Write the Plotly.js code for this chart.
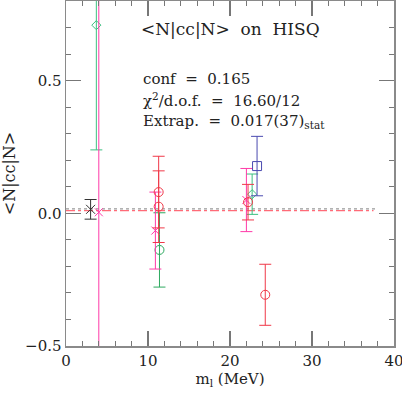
<!DOCTYPE html>
<html>
<head>
<meta charset="utf-8">
<script src="https://cdn.plot.ly/plotly-3.0.1.min.js"></script>
<style>html,body{margin:0;padding:0;background:#fff;}#plot{width:402px;height:394px;}</style>
</head>
<body>
<div id="plot"></div>
<script>
// Extrapolated value (black)
const extrapM = [3.0];
const extrapV = [0.015];
const extrapE = [0.037];
// Red circles
const redM = [11.3, 11.3, 22.2, 24.3];
const redV = [0.08, 0.025, 0.042, -0.307];
const redE = [0.135, 0.135, 0.067, 0.115];
// Magenta crosses
const magM = [4.0, 10.9, 22.0];
const magV = [0.004, -0.065, 0.05];
const magE = [1.0, 0.145, 0.119];
// Green diamonds
const grnDM = [3.7, 22.7];
const grnDV = [0.709, 0.072];
const grnDE = [0.47, 0.076];
// Green circle
const grnCM = [11.4];
const grnCV = [-0.138];
const grnCE = [0.14];
// Blue square
const bluM = [23.3];
const bluV = [0.178];
const bluE = [0.112];
// Fit lines
const fitGrayM = [0, 38];
const fitGrayV = [0.017, 0.017];
const fitRedM = [0, 37.5];
const fitRedV = [0.010, 0.010];

const font = 'DejaVu Serif, serif';

function pts(x, y, e, color, symbol, size) {
  return {
    x: x, y: y, type: 'scatter', mode: 'markers', cliponaxis: true,
    marker: {symbol: symbol, size: size, color: color, line: {color: color, width: 1}},
    error_y: {type: 'data', array: e, visible: true, color: color, thickness: 1, width: 6},
    showlegend: false
  };
}

const traces = [
  {x: fitGrayM, y: fitGrayV, type: 'scatter', mode: 'lines', line: {color: '#999999', width: 1.2, dash: 'dot'}, showlegend: false},
  {x: fitRedM, y: fitRedV, type: 'scatter', mode: 'lines', line: {color: '#ff6b78', width: 1.2, dash: 'dashdot'}, showlegend: false},
  pts(grnDM, grnDV, grnDE, '#3cc080', 'diamond-open', 7),
  pts(grnCM, grnCV, grnCE, '#2eaa60', 'circle-open', 9),
  pts(magM, magV, magE, '#ff3aa8', 'x-thin-open', 8),
  pts(redM, redV, redE, '#f03848', 'circle-open', 9),
  pts(bluM, bluV, bluE, '#4a4ab0', 'square-open', 9),
  pts(extrapM, extrapV, extrapE, '#333333', 'x-thin-open', 9)
];

const axisCommon = {
  showline: true, mirror: 'ticks', linecolor: '#8a8a8a', linewidth: 1.5,
  ticks: 'inside', ticklen: 15, tickwidth: 1.2, tickcolor: '#777',
  showgrid: false, zeroline: false,
  tickfont: {family: font, size: 15, color: '#222'}
};

const layout = {
  width: 402, height: 394,
  margin: {l: 66, r: 8, t: 1, b: 48},
  paper_bgcolor: '#fff', plot_bgcolor: '#fff',
  showlegend: false,
  xaxis: Object.assign({}, axisCommon, {
    range: [0, 40], tickvals: [0, 10, 20, 30, 40], ticktext: ['0', '10', '20', '30', '40'],
    ticklabeloverflow: 'allow',
    minor: {dtick: 2, ticks: 'inside', ticklen: 5, tickcolor: '#777', tickwidth: 1},
    title: {text: 'm<sub>l</sub> (MeV)', font: {family: font, size: 15, color: '#222'}, standoff: 4}
  }),
  yaxis: Object.assign({}, axisCommon, {
    range: [-0.5, 0.8], tickvals: [-0.5, 0, 0.5], ticktext: ['\u22120.5', '0.0', '0.5'],
    minor: {dtick: 0.1, ticks: 'inside', ticklen: 5, tickcolor: '#777', tickwidth: 1},
    title: {text: '<N|cc|N>', font: {family: font, size: 16, color: '#222'}, standoff: 5}
  }),
  annotations: [
    {xref: 'x', yref: 'paper', x: 20, y: 0.92, text: '<N|cc|N>  on  HISQ', showarrow: false,
     font: {family: font, size: 17, color: '#222'}, xanchor: 'center', yanchor: 'middle'},
    {xref: 'paper', yref: 'paper', x: 0.23, y: 0.775, text: 'conf  =  0.165', showarrow: false,
     font: {family: font, size: 15, color: '#222'}, xanchor: 'left', yanchor: 'middle'},
    {xref: 'paper', yref: 'paper', x: 0.23, y: 0.713, text: '\u03c7<sup>2</sup>/d.o.f.  =  16.60/12', showarrow: false,
     font: {family: font, size: 15, color: '#222'}, xanchor: 'left', yanchor: 'middle'},
    {xref: 'paper', yref: 'paper', x: 0.23, y: 0.652, text: 'Extrap.  =  0.017(37)<sub>stat</sub>', showarrow: false,
     font: {family: font, size: 15, color: '#222'}, xanchor: 'left', yanchor: 'middle'}
  ]
};

Plotly.newPlot('plot', traces, layout, {displayModeBar: false, staticPlot: true});
</script>
</body>
</html>
